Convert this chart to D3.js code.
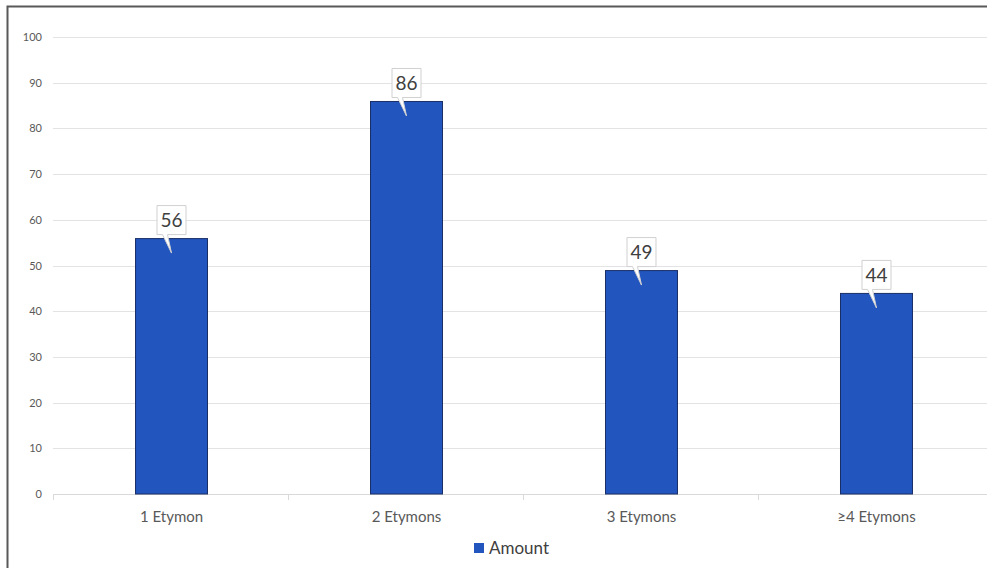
<!DOCTYPE html>
<html>
  <head>
    <style type="text/css">
        body { margin: 0; background: #fff; }
        svg { display: block; }
    </style>
  </head>
  <body>
    <svg width="987" height="568"></svg>
    <script src="https://d3js.org/d3.v7.min.js"></script>
    <script>

    // data
    var categories = ["1 Etymon", "2 Etymons", "3 Etymons", "\u22654 Etymons"];
    var amounts = [56, 86, 49, 44];
    var yTicks = [0, 10, 20, 30, 40, 50, 60, 70, 80, 90, 100];
    var seriesName = "Amount";

    var svg = d3.select("svg");

    // outer frame (right and bottom are cut off in the picture)
    svg.append("path")
        .attr("d", "M7.5,568V6.5H987")
        .attr("fill", "none")
        .attr("stroke", "#595959")
        .attr("stroke-width", 2);

    var x = d3.scaleBand()
        .domain(categories)
        .range([53, 995])
        .paddingInner(0.6894)
        .paddingOuter(0.349);

    var y = d3.scaleLinear()
        .domain([0, 100])
        .range([494, 37]);

    // gridlines
    svg.append("g").selectAll("line")
      .data(yTicks.filter(function(d) { return d > 0; }))
      .enter().append("line")
        .attr("x1", 53).attr("x2", 987)
        .attr("y1", function(d) { return Math.round(y(d)) + 0.5; })
        .attr("y2", function(d) { return Math.round(y(d)) + 0.5; })
        .attr("stroke", "#e3e3e3");

    // y axis labels
    svg.append("g").selectAll("text")
      .data(yTicks)
      .enter().append("text")
        .attr("x", 42)
        .attr("y", function(d) { return y(d) + 4; })
        .attr("text-anchor", "end")
        .attr("font-family", "Lato, 'Open Sans', sans-serif")
        .attr("font-size", 11)
        .attr("fill", "#595959")
        .text(function(d) { return d; });

    // baseline and category ticks
    svg.append("line")
        .attr("x1", 53).attr("x2", 987)
        .attr("y1", 494.5).attr("y2", 494.5)
        .attr("stroke", "#d9d9d9");

    var step = x.step();
    svg.append("g").selectAll("line")
      .data(d3.range(categories.length + 1))
      .enter().append("line")
        .attr("x1", function(i) { return 53.5 + i * step; })
        .attr("x2", function(i) { return 53.5 + i * step; })
        .attr("y1", 494).attr("y2", 500)
        .attr("stroke", "#d9d9d9");

    // x labels
    svg.append("g").selectAll("text")
      .data(categories)
      .enter().append("text")
        .attr("x", function(d) { return x(d) + x.bandwidth() / 2; })
        .attr("y", 522)
        .attr("text-anchor", "middle")
        .attr("font-family", "Lato, 'Open Sans', sans-serif")
        .attr("font-size", 15)
        .attr("fill", "#595959")
        .text(function(d) { return d; });

    // bars
    svg.append("g").selectAll("rect")
      .data(amounts)
      .enter().append("rect")
        .attr("x", function(d, i) { return x(categories[i]) + 0.5; })
        .attr("y", function(d) { return y(d) + 0.5; })
        .attr("width", x.bandwidth() - 1)
        .attr("height", function(d) { return y(0) - y(d) - 0.5; })
        .attr("fill", "#2255bd")
        .attr("stroke", "#1a2f66")
        .attr("stroke-width", 1);

    // callout labels
    var callouts = svg.append("g").selectAll("g")
      .data(amounts)
      .enter().append("g")
        .attr("transform", function(d, i) {
            return "translate(" + (x(categories[i]) + x.bandwidth() / 2) + "," + y(d) + ")";
        });

    callouts.append("path")
        .attr("d", "M-14.5,-32.5H14.5V-3.5H-4L0,15L-9,-3.5H-14.5Z")
        .attr("fill", "#fff")
        .attr("stroke", "#d0d0d0");

    callouts.append("text")
        .attr("y", -11)
        .attr("text-anchor", "middle")
        .attr("font-family", "Lato, 'Open Sans', sans-serif")
        .attr("font-size", 19)
        .attr("fill", "#404040")
        .text(function(d) { return d; });

    // legend
    var legend = svg.append("g").attr("transform", "translate(474,543)");
    legend.append("rect")
        .attr("width", 10).attr("height", 10)
        .attr("fill", "#2255bd");
    legend.append("text")
        .attr("x", 15).attr("y", 11)
        .attr("font-family", "Lato, 'Open Sans', sans-serif")
        .attr("font-size", 17)
        .attr("fill", "#404040")
        .text(seriesName);

    </script>
  </body>
</html>
